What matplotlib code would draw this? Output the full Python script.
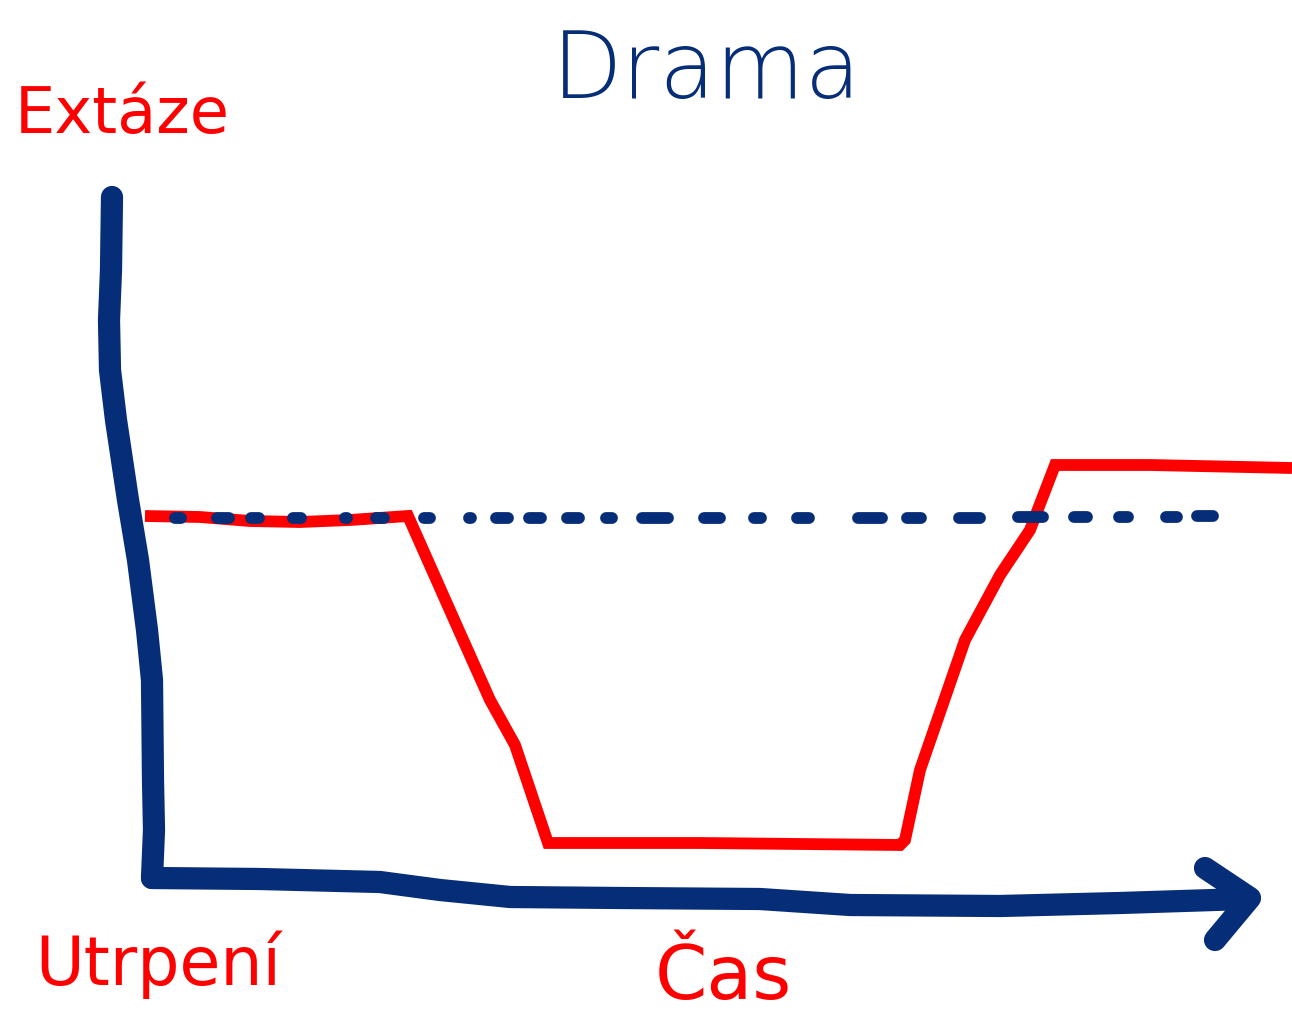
import matplotlib
matplotlib.use("Agg")
import matplotlib.pyplot as plt

W, H = 1292, 1015
BLUE = "#062d78"
RED = "#ff0000"

# hand-drawn axes (pixel space of the sketch)
yaxis_x = [112, 111, 109, 110, 116, 128, 138, 147, 152, 153, 154, 152]
yaxis_y = [197, 270, 320, 370, 420, 500, 560, 630, 680, 780, 830, 878]
xaxis_x = [152, 260, 380, 440, 510, 620, 760, 850, 1000, 1120, 1245]
xaxis_y = [878, 879, 882, 890, 897, 898, 899, 905, 906, 903, 899]
arrow_x = [1205, 1250, 1215]
arrow_y = [868, 898, 940]

# red "mood" curve
mood_x = [145, 200, 250, 300, 350, 408, 460, 490, 515, 548, 700, 900, 905, 920, 965, 1000, 1030, 1055, 1150, 1292]
mood_y = [516, 517, 521, 522, 520, 516, 633, 700, 745, 843, 843, 845, 840, 770, 640, 575, 530, 465, 465, 468]

# dotted baseline: dash centres and lengths
dash_x = [178, 223, 255, 297, 346, 380, 427, 470, 502, 535, 573, 609, 655, 712, 757, 803,
          870, 914, 969, 1030, 1080, 1123, 1171, 1205]
dash_len = [6, 12, 8, 8, 2, 8, 6, 2, 12, 12, 12, 6, 26, 16, 7, 12,
            24, 14, 21, 25, 13, 9, 11, 16]
dash_y = [518, 518, 518, 518, 518, 518, 518, 518, 518, 518, 518, 518, 518, 518, 518, 518,
          518, 518, 518, 517, 517, 517, 517, 516]

fig = plt.figure(figsize=(W / 100, H / 100), dpi=100)
ax = fig.add_axes([0, 0, 1, 1])
ax.set_xlim(0, W)
ax.set_ylim(H, 0)
ax.axis("off")

ax.plot(mood_x, mood_y, color=RED, lw=8.5, solid_joinstyle="miter", solid_capstyle="butt", zorder=2)

for x, l, y in zip(dash_x, dash_len, dash_y):
    ax.plot([x - l / 2, x + l / 2], [y, y], color=BLUE, lw=8.5, solid_capstyle="round", zorder=3)

for xs, ys in [(yaxis_x, yaxis_y), (xaxis_x, xaxis_y), (arrow_x, arrow_y)]:
    ax.plot(xs, ys, color=BLUE, lw=16, solid_capstyle="round", solid_joinstyle="round", zorder=4)

ax.text(707, 72, "Drama", color=BLUE, fontsize=66, fontweight="light", family="DejaVu Sans",
        ha="center", va="center")
ax.text(15, 115, "Extáze", color=RED, fontsize=46, family="DejaVu Sans", ha="left", va="center")
ax.text(35, 965, "Utrpení", color=RED, fontsize=48, family="DejaVu Sans", ha="left", va="center")
ax.text(655, 978, "Čas", color=RED, fontsize=54, family="DejaVu Sans", ha="left", va="center")

fig.savefig("out.png", dpi=100)
